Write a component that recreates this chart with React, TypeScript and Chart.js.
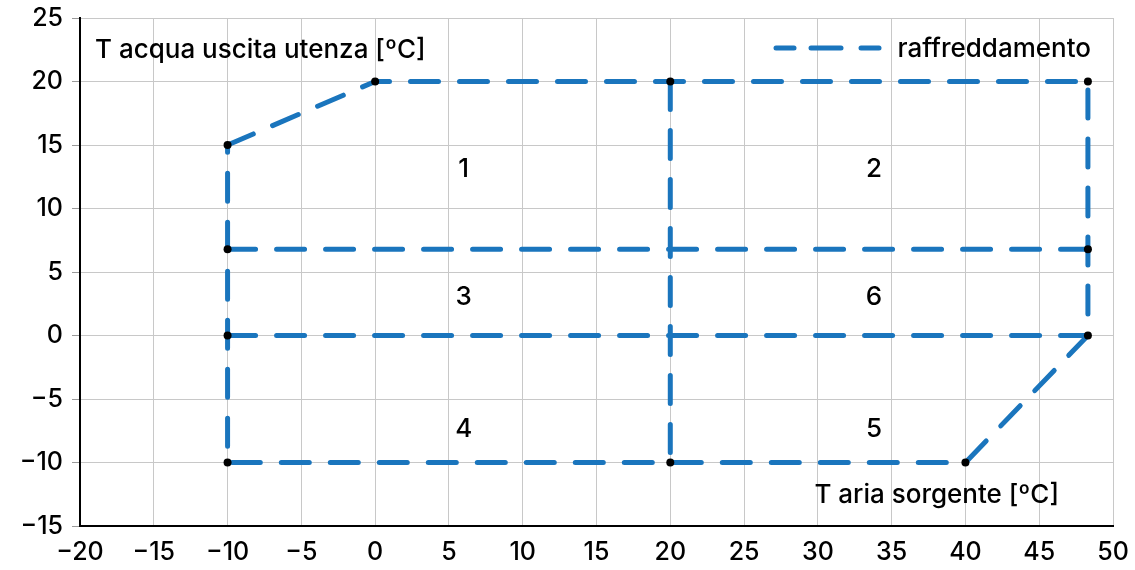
import React, { useEffect, useRef } from "react";
import { Chart, registerables } from "chart.js";

Chart.register(...registerables);

const outlineX = [-10, 0, 48.3, 48.3, 40, -10, -10];
const outlineY = [15, 20, 20, 0, -10, -10, 15];
const line7X = [-10, 48.3];
const line7Y = [6.8, 6.8];
const line0X = [-10, 48.3];
const line0Y = [0, 0];
const vertX = [20, 20];
const vertY = [20, -10];
const dotX = [-10, 0, 20, 48.3, -10, 48.3, -10, 48.3, -10, 20, 40];
const dotY = [15, 20, 20, 20, 6.8, 6.8, 0, 0, -10, -10, -10];
const zoneLabels = ["1", "2", "3", "6", "4", "5"];
const zoneX = [6, 33.8, 6, 33.8, 6, 33.8];
const zoneY = [13.1, 13.1, 3.0, 3.0, -7.4, -7.4];
const seriesName = "raffreddamento";
const yTitle = "T acqua uscita utenza [ºC]";
const xTitle = "T aria sorgente [ºC]";

const BLUE = "#1a75bd";
const FONT = "Inter";
const DASH = [28, 21];

const pts = (xs: number[], ys: number[]) => xs.map((x, i) => ({ x, y: ys[i] }));

const lineDs = (xs: number[], ys: number[]) => ({
  data: pts(xs, ys),
  showLine: true,
  borderColor: BLUE,
  borderWidth: 5,
  borderDash: DASH,
  borderCapStyle: "round" as const,
  borderJoinStyle: "round" as const,
  pointRadius: 0,
  fill: false,
  order: 1,
});

const overlay = {
  id: "overlay",
  afterDatasetsDraw(chart: any) {
    const ctx = chart.ctx;
    const { left, right, top, bottom } = chart.chartArea;
    const xs = chart.scales.x;
    const ys = chart.scales.y;
    ctx.save();
    ctx.fillStyle = "#000";
    ctx.textBaseline = "middle";
    ctx.font = `500 26px ${FONT}`;
    // zone labels
    ctx.textAlign = "center";
    zoneLabels.forEach((t, i) => {
      ctx.fillText(t, xs.getPixelForValue(zoneX[i]), ys.getPixelForValue(zoneY[i]));
    });
    // axis titles
    ctx.textAlign = "left";
    ctx.fillText(yTitle, left + 15, top + 32);
    ctx.textAlign = "right";
    ctx.fillText(xTitle, right - 54, bottom - 31);
    // legend
    ctx.fillText(seriesName, right - 22, top + 31);
    const ly = top + 30;
    ctx.strokeStyle = BLUE;
    ctx.lineWidth = 5;
    ctx.lineCap = "round";
    const segs = [
      [right - 337, right - 319],
      [right - 302, right - 272],
      [right - 252, right - 234],
    ];
    segs.forEach(([a, b]) => {
      ctx.beginPath();
      ctx.moveTo(a, ly);
      ctx.lineTo(b, ly);
      ctx.stroke();
    });
    ctx.restore();
  },
};

export default function App() {
  const ref = useRef<HTMLCanvasElement>(null);
  useEffect(() => {
    if (!ref.current) return;
    const fmt = (v: any) => String(v).replace("-", "\u2212");
    const chart = new Chart(ref.current, {
      type: "scatter",
      data: {
        datasets: [
          {
            data: pts(dotX, dotY),
            pointRadius: 4,
            pointBackgroundColor: "#000",
            pointBorderColor: "#000",
            pointBorderWidth: 0,
            showLine: false,
            order: 0,
          } as any,
          lineDs(outlineX, outlineY),
          lineDs(line7X, line7Y),
          lineDs(line0X, line0Y),
          lineDs(vertX, vertY),
        ],
      },
      options: {
        animation: false,
        responsive: false,
        devicePixelRatio: 1,
        layout: { padding: { top: 18, right: 22, left: 0, bottom: 0 } },
        plugins: { legend: { display: false }, tooltip: { enabled: false } },
        scales: {
          x: {
            type: "linear",
            min: -20,
            max: 50,
            ticks: {
              stepSize: 5,
              color: "#000",
              padding: 11,
              font: { family: FONT, size: 25, weight: 500 },
              callback: fmt,
            },
            grid: { color: "#c8c8c8", lineWidth: 1, drawTicks: false },
            border: { color: "#000", width: 2 },
            afterFit: (s: any) => {
              s.height = 44;
              s.paddingLeft = 0;
              s.paddingRight = 0;
            },
          },
          y: {
            type: "linear",
            min: -15,
            max: 25,
            ticks: {
              stepSize: 5,
              color: "#000",
              padding: 9,
              font: { family: FONT, size: 25, weight: 500 },
              callback: fmt,
            },
            grid: { color: "#c8c8c8", lineWidth: 1, drawTicks: true, tickLength: 8, tickColor: "#999" },
            border: { color: "#000", width: 2 },
            afterFit: (s: any) => {
              s.width = 80;
              s.paddingTop = 0;
              s.paddingBottom = 0;
            },
          },
        },
      },
      plugins: [overlay],
    });
    return () => chart.destroy();
  }, []);
  return (
    <div style={{ position: "fixed", left: 0, top: 0, width: 1135, height: 570, background: "#fff" }}>
      <canvas ref={ref} width={1135} height={570} />
    </div>
  );
}
